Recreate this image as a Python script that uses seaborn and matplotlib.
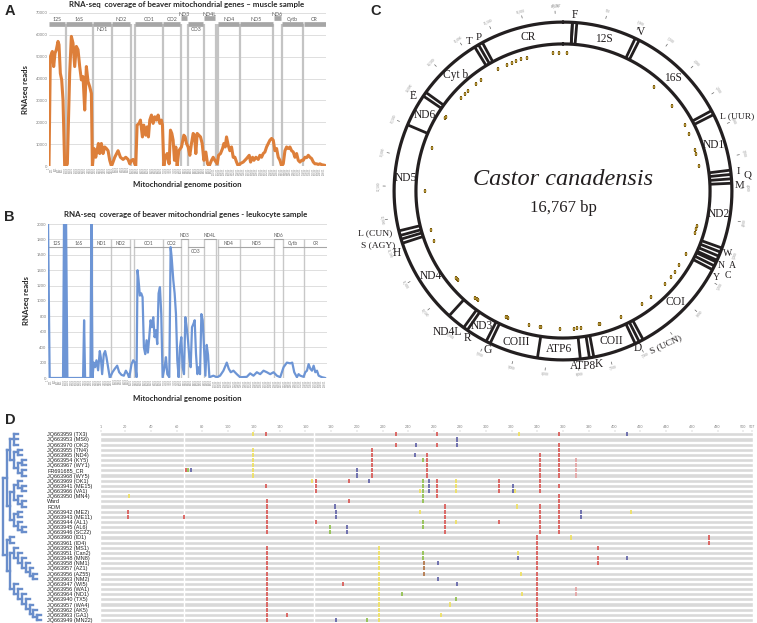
import numpy as np
import matplotlib
matplotlib.use("Agg")
import matplotlib.pyplot as plt
import seaborn as sns

sns.set_style("white")
plt.rcParams['font.family'] = ['Lato', 'DejaVu Sans']

GENOME = 16767

# A: RNA-seq coverage, muscle sample
muscle_pos = [0, 81, 202, 283, 364, 444, 545, 606, 687, 768,
              848, 949, 1050, 1111, 1252, 1353, 1454, 1555, 1656, 1757,
              1858, 1959, 2060, 2161, 2262, 2363, 2464, 2565, 2626, 2727,
              2828, 2909, 2990, 3070, 3171, 3272, 3373, 3474, 3575, 3676,
              3777, 3838, 3979, 4181, 4323, 4484, 4646, 4787, 4888, 4989,
              5090, 5191, 5252, 5333, 5454, 5535, 5656, 5737, 5858, 5939,
              6020, 6100, 6201, 6302, 6403, 6504, 6605, 6706, 6807, 6868,
              6949, 7050, 7151, 7272, 7353, 7434, 7514, 7595, 7676, 7757,
              7858, 8019, 8161, 8242, 8322, 8423, 8524, 8625, 8726, 8807,
              8888, 8969, 9070, 9171, 9272, 9373, 9494, 9595, 9696, 9837,
              9938, 10039, 10181, 10262, 10383, 10504, 10585, 10666, 10746, 10847,
              10948, 11049, 11150, 11251, 11352, 11453, 11554, 11756, 11958, 12120,
              12201, 12322, 12403, 12524, 12665, 12766, 12867, 12968, 13069, 13170,
              13271, 13372, 13473, 13574, 13675, 13776, 13877, 13978, 14079, 14180,
              14281, 14382, 14483, 14584, 14685, 14786, 14887, 14988, 15089, 15190,
              15291, 15392, 15493, 15594, 15695, 15796, 15897, 15998, 16099, 16200,
              16301, 16402, 16503, 16705]
muscle_reads = [0, 50000, 52400, 45500, 51600, 53200, 57000, 55500, 42400, 39400,
                30200, 0, 0, 1000, 42400, 59300, 56200, 45500, 54700, 53200,
                45500, 39400, 40900, 25600, 45500, 38600, 36300, 33200, 0, 8000,
                4000, 7000, 10300, 5700, 10300, 5700, 8700, 8000, 7000, 2600,
                0, 1000, 4000, 7000, 4000, 3000, 4000, 3000, 1000, 2600,
                3000, 1000, 0, 18700, 19500, 21000, 13300, 18700, 14100, 17900,
                13300, 21000, 23300, 19500, 22500, 21000, 23300, 19500, 21000, 18700,
                0, 4000, 5700, 1000, 16400, 14900, 11800, 2600, 8700, 0,
                7000, 8700, 14100, 13300, 10300, 8700, 4900, 10300, 14900, 14100,
                5700, 14900, 14100, 13300, 10300, 2600, 6400, 1000, 0, 2600,
                4000, 2600, 1000, 4900, 5700, 8000, 10300, 8700, 13300, 9500,
                7000, 8700, 4000, 4000, 1800, 0, 1000, 1800, 3400, 4900,
                1800, 4000, 2600, 4000, 3000, 4900, 4000, 5700, 6400, 8700,
                10300, 11800, 12600, 11800, 7000, 8000, 4000, 2600, 0, 1000,
                7000, 8700, 8000, 8700, 7000, 6400, 4000, 5700, 2600, 1800,
                2600, 2600, 4000, 3800, 4900, 4000, 3400, 1800, 1000, 1000,
                700, 1000, 600, 300]

# B: RNA-seq coverage, leukocyte sample
leuko_pos = [0, 100, 904, 964, 1024, 1084, 1165, 2108, 2169, 2229,
             2550, 2610, 2671, 2751, 2831, 2912, 3012, 3112, 3173, 3253,
             3353, 3434, 3514, 3614, 3715, 3875, 4016, 4157, 4277, 4418,
             4558, 4679, 4799, 4879, 5020, 5120, 5221, 5321, 5381, 5442,
             5522, 5602, 5683, 5763, 5843, 5924, 6004, 6084, 6165, 6245,
             6325, 6406, 6486, 6566, 6646, 6727, 6807, 6887, 7008, 7088,
             7169, 7289, 7369, 7430, 7530, 7610, 7691, 7771, 7851, 7932,
             8012, 8092, 8173, 8253, 8333, 8414, 8494, 8574, 8654, 8735,
             8815, 8895, 8976, 9056, 9136, 9217, 9297, 9377, 9458, 9538,
             9618, 9699, 9940, 10140, 10341, 10542, 10743, 10863, 10984, 11144,
             11345, 11546, 11948, 12148, 12349, 12550, 12751, 12952, 13152, 13353,
             13554, 13755, 13956, 14156, 14357, 14558, 14678, 14799, 14960, 15060,
             15160, 15361, 15462, 15562, 15662, 15763, 15863, 15964, 16064, 16165,
             16265, 16466, 16667]
leuko_reads = [2100, 0, 0, 2100, 0, 2100, 0, 0, 750, 0,
               0, 2100, 0, 200, 140, 230, 100, 350, 270, 50,
               310, 350, 270, 140, 0, 75, 120, 160, 75, 40,
               30, 95, 50, 0, 180, 230, 200, 10, 1400, 1270,
               1070, 1100, 1050, 400, 310, 490, 330, 530, 750, 660,
               790, 530, 620, 440, 1100, 1180, 830, 10, 140, 270,
               50, 10, 1700, 1570, 1270, 1100, 830, 230, 10, 400,
               530, 140, 50, 790, 660, 490, 270, 140, 660, 700,
               750, 310, 50, 140, 50, 830, 750, 400, 30, 430,
               300, 10, 30, 10, 30, 95, 200, 120, 75, 95,
               50, 10, 15, 60, 30, 75, 50, 95, 75, 50,
               75, 30, 10, 140, 200, 190, 200, 75, 10, 50,
               30, 15, 75, 95, 180, 120, 95, 160, 75, 95,
               30, 10, 0]

# gene band on top of A and B
band_genes = ["12S", "16S", "ND1", "ND2", "CO1", "CO2", "ND3", "CO3", "ND4L", "ND4", "ND5", "ND6", "Cytb", "CR"]
band_start = [0, 1010, 2640, 3800, 5190, 6890, 7980, 8400, 9370, 10210, 11550, 13560, 14100, 15380]
band_end = [1010, 2640, 3800, 4950, 6890, 7980, 8400, 9370, 10100, 11550, 13560, 14100, 15380, 16767]
band_level_a = ["mid", "mid", "low", "mid", "mid", "mid", "up", "low", "up", "mid", "mid", "up", "mid", "mid"]
band_level_b = ["mid", "mid", "mid", "mid", "mid", "mid", "up", "low", "up", "mid", "mid", "up", "mid", "mid"]

# C: circular map
c_names = ["F", "12S", "V", "16S", "L (UUR)", "ND1", "I", "Q", "M", "ND2",
           "W", "A", "N", "C", "Y", "COI", "S (UCN)", "D", "COII", "K",
           "ATP8", "ATP6", "COIII", "G", "ND3", "R", "ND4L", "ND4", "H", "S (AGY)",
           "L (CUN)", "ND5", "ND6", "E", "Cyt b", "T", "P", "CR"]
c_start = [0, 70, 1030, 1100, 2720, 2790, 3712, 3780, 3850, 3920,
           4962, 5030, 5100, 5200, 5268, 5336, 6915, 6985, 7055, 7745,
           7815, 7960, 8640, 9425, 9495, 9842, 9912, 10208, 11587, 11655,
           11715, 11790, 13500, 14020, 14090, 15150, 15220, 15290]
c_end = [70, 1030, 1100, 2720, 2790, 3712, 3780, 3850, 3920, 4962,
         5030, 5100, 5170, 5268, 5336, 6915, 6985, 7055, 7745, 7815,
         7960, 8640, 9425, 9495, 9842, 9912, 10208, 11587, 11655, 11715,
         11790, 13500, 14020, 14090, 15150, 15220, 15290, 16767]
c_trna = ["F", "V", "L (UUR)", "I", "Q", "M", "W", "A", "N", "C", "Y", "S (UCN)", "D", "K",
          "G", "R", "H", "S (AGY)", "L (CUN)", "E", "T", "P"]
c_variants = [1774, 2268, 2724, 2906, 3232, 3316, 3560, 4718, 4790, 4867,
              5313, 5561, 5716, 5845, 6007, 6391, 6608, 7088, 7517, 7540,
              7880, 7960, 8030, 8286, 8664, 8690, 8904, 9330, 9350, 9370,
              10013, 10040, 10070, 10550, 10580, 10610, 11434, 11657, 12421, 13273,
              13903, 13930, 14397, 14500, 14600, 14800, 14912, 15300, 15500, 15600,
              15700, 15800, 15905, 16418, 16534, 16700]

# D: control region alignment
seq_names = ["JQ663959 (TX3)", "JQ663953 (MS6)", "JQ663970 (OK2)", "JQ663955 (TN4)",
             "JQ663965 (ND4)", "JQ663954 (KY5)", "JQ663967 (WY1)", "FR691685_CR",
             "JQ663968 (WY5)", "JQ663969 (OK1)", "JQ663941 (ME15)", "JQ663966 (VA1)",
             "JQ663950 (MN4)", "Ward", "ROM", "JQ663942 (ME2)", "JQ663943 (ME11)",
             "JQ663944 (AL1)", "JQ663945 (AL6)", "JQ663946 (SC22)", "JQ663960 (ID1)",
             "JQ663961 (ID4)", "JQ663952 (MS1)", "JQ663951 (Can2)", "JQ663948 (MN8)",
             "JQ663958 (NM1)", "JQ663957 (AZ1)", "JQ663956 (AZ55)", "JQ663963 (NM2)",
             "JQ663947 (WI5)", "JQ663956 (WA1)", "JQ663964 (ND1)", "JQ663940 (TX5)",
             "JQ663957 (WA4)", "JQ663962 (AK5)", "JQ663963 (GA1)", "JQ663949 (MN22)"]
aln_ticks = [1, 20, 40, 60, 80, 100, 120, 140, 160, 180, 200, 220, 240, 260, 280, 300,
             320, 340, 360, 380, 400, 420, 440, 460, 480, 500, 507]
red_sites = {0: [129, 230, 262, 357], 2: [230, 262, 357], 3: [212, 357],
             4: [212, 254, 342, 357], 5: [212, 254, 342, 357], 6: [212, 254, 342, 357],
             7: [67, 212, 254, 342, 357], 8: [212, 254, 342, 357],
             9: [168, 194, 262, 310, 342], 10: [129, 168, 262, 310, 342, 357],
             11: [168, 262, 310, 342], 12: [262, 357], 13: [130, 194, 357],
             14: [130, 268, 342, 357], 15: [22, 130, 268, 342, 357],
             16: [22, 66, 130, 268, 342, 357], 17: [130, 168, 268, 310, 342, 357],
             18: [130, 268, 342, 357], 19: [130, 268, 342, 357], 20: [340, 473], 21: [340, 473],
             22: [130, 340, 387], 23: [130, 340], 24: [130, 340, 387], 25: [130, 340, 387],
             26: [130, 340], 27: [130, 340], 28: [130, 340], 29: [130, 189, 340],
             30: [130, 340], 31: [130, 340], 32: [130, 340], 33: [130, 340], 34: [130, 340],
             35: [130, 146, 340], 36: [130, 340]}
blue_sites = {0: [410], 1: [278], 2: [246, 278], 4: [245], 7: [71, 200], 8: [200],
              9: [209, 256], 10: [256, 321], 11: [256, 321], 14: [183], 15: [184, 374],
              16: [184, 374], 18: [192], 19: [192], 24: [325, 410], 25: [263], 28: [263],
              29: [278], 36: [184]}
green_sites = {5: [251], 7: [69], 9: [251], 10: [251], 11: [251], 12: [251], 13: [251],
               17: [251], 18: [179, 251], 19: [179], 23: [251], 24: [251], 31: [235],
               32: [277], 36: [208]}
yellow_sites = {0: [119, 326], 3: [119], 4: [119], 5: [119], 6: [119], 7: [119], 8: [119],
                9: [165, 277], 10: [277], 11: [249, 277, 323], 12: [23], 14: [324],
                15: [249, 413], 17: [277], 20: [366], 22: [217], 23: [217, 325], 24: [217],
                25: [217], 26: [217], 27: [217, 327], 28: [217], 29: [217], 30: [217],
                31: [217, 328], 32: [217], 33: [217, 272], 34: [217], 35: [217, 265], 36: [217]}
pink_sites = {5: [370], 6: [370], 7: [370], 8: [370], 30: [370], 31: [370]}
brown_sites = {25: [252], 26: [252], 27: [252]}

tree = (
    (
        ((0, 1, 2), ((3, 4), ((5, 6), (7, 8)))),
        (((9, (10, 11)), (12, (13, 14))), ((15, 16), (17, (18, 19)))),
    ),
    (
        (20, 21),
        ((22, (23, (24, (25, (26, (27, 28)))))),
         (29, (30, (31, (32, (33, (34, (35, 36)))))))),
    ),
)

W, H = 757, 623
fig = plt.figure(figsize=(7.57, 6.23), dpi=100)


def box(x0, y0, x1, y1):
    # pixel box (top-left origin) -> figure fraction rect
    return [x0 / W, 1 - y1 / H, (x1 - x0) / W, (y1 - y0) / H]


grey_txt = '#7f7f7f'
band_col = '#a6a6a6'
bounds = sorted(set(band_start[1:] + band_end[:-1]))


def coverage_axes(ax, x, y, color, lw, ymax, ystep):
    sns.lineplot(x=x, y=y, ax=ax, color=color, lw=lw, zorder=3)
    ax.set_xlim(0, GENOME)
    ax.set_ylim(0, ymax)
    ax.set_yticks(np.arange(0, ymax + 1, ystep))
    ax.set_yticklabels([str(v) for v in np.arange(0, ymax + 1, ystep)], fontsize=3, color=grey_txt)
    xt = np.arange(1, GENOME, 200)
    ax.set_xticks(xt)
    ax.set_xticklabels([str(v) for v in xt], fontsize=1.8, rotation=90, color=grey_txt)
    ax.tick_params(length=0, pad=1)
    ax.yaxis.grid(True, color='#d9d9d9', lw=0.6)
    for s in ax.spines.values():
        s.set_visible(False)
    ax.set_xlabel('')
    ax.set_ylabel('')


# ---- A
axA = fig.add_axes(box(49, 13, 326, 166))
coverage_axes(axA, muscle_pos, muscle_reads, '#dd7f3a', 2.2, 70000, 10000)
axA.vlines(bounds, 0, 65000, color='#c4c4c4', lw=1.6, zorder=1)
for g, s, e, lv in zip(band_genes, band_start, band_end, band_level_a):
    y = 67600 if lv == "up" else 65000
    axA.plot([s + 30, e - 30], [y, y], color=band_col, lw=3.4, solid_capstyle='butt', zorder=2)
    ly = y - 2700 if lv == "low" else y + 1900
    axA.text((s + e) / 2, ly, g, ha='center', va='center', fontsize=3.8, color='#595959', zorder=4)

# ---- B
axB = fig.add_axes(box(48, 224, 327, 378))
coverage_axes(axB, leuko_pos, leuko_reads, '#6d95d5', 1.6, 2000, 200)
axB.vlines(bounds, 0, 1800, color='#c8c8c8', lw=1.0, zorder=1)
for g, s, e, lv in zip(band_genes, band_start, band_end, band_level_b):
    y = 1800 if lv == "up" else 1700
    axB.plot([s, e], [y, y], color=band_col, lw=0.8, zorder=2)
    ly = y - 55 if lv == "low" else y + 45
    axB.text((s + e) / 2, ly, g, ha='center', va='center', fontsize=3.4, color='#595959', zorder=4)

title_kw = dict(ha='center', va='center', fontsize=5.7, fontweight='bold', color='#262626')
fig.text(187 / W, 1 - 5 / H, 'RNA-seq  coverage of beaver mitochondrial genes \u2013 muscle sample', **title_kw)
fig.text(186 / W, 1 - 215 / H, 'RNA-seq  coverage of beaver mitochondrial genes - leukocyte sample', **title_kw)
lab_kw = dict(ha='center', va='center', fontsize=5.6, fontweight='bold', color='#262626')
fig.text(187 / W, 1 - 185 / H, 'Mitochondrial genome position', **lab_kw)
fig.text(187 / W, 1 - 398 / H, 'Mitochondrial genome position', **lab_kw)
fig.text(25 / W, 1 - 90 / H, 'RNAseq reads', rotation=90, **lab_kw)
fig.text(27 / W, 1 - 301 / H, 'RNAseq reads', rotation=90, **lab_kw)

letter_kw = dict(ha='center', va='center', fontsize=10.5, fontweight='bold', family=['Liberation Sans'])
fig.text(10 / W, 1 - 11 / H, 'A', **letter_kw)
fig.text(9 / W, 1 - 217 / H, 'B', **letter_kw)
fig.text(376 / W, 1 - 11 / H, 'C', **letter_kw)
fig.text(10 / W, 1 - 420 / H, 'D', **letter_kw)

# ---- C
axC = fig.add_axes(box(373, 1, 753, 381), projection='polar')
axC.set_theta_zero_location('N')
axC.set_theta_direction(-1)
axC.set_ylim(0, 1)
axC.axis('off')
R_OUT, R_IN = 0.889, 0.774
ring_col = '#231f20'
serif = ['Liberation Serif', 'DejaVu Serif']


def th(pos):
    return np.deg2rad(3.2 + pos * 360.0 / GENOME)


ring = np.linspace(0, 2 * np.pi, 721)
axC.plot(ring, np.full_like(ring, R_OUT), color=ring_col, lw=2.3)
axC.plot(ring, np.full_like(ring, R_IN), color=ring_col, lw=2.3)
for b in sorted(set(c_start + c_end)):
    axC.plot([th(b), th(b)], [R_IN, R_OUT], color=ring_col, lw=2.0, solid_capstyle='butt')

# label placement: name -> (angle shift in degrees, radius, ha, rotation, fontsize)
label_tweak = {
    "ATP8": (1, 0.925, "center", 0, 8.3), "ND4L": (-3.6, 0.915, "right", 0, 8.3),
    "R": (-2.3, 0.92, "center", 0, 8.3), "G": (-1, 0.925, "center", 0, 8.3),
    "T": (-1.3, 0.93, "center", 0, 7.8), "P": (0.6, 0.92, "center", 0, 7.8),
    "L (UUR)": (2, 0.915, "left", 0, 6.8), "Q": (0, 0.975, "center", 0, 7.8),
    "M": (1.5, 0.93, "center", 0, 7.8), "I": (0, 0.93, "center", 0, 7.8),
    "W": (0.5, 0.925, "center", 0, 7.0), "A": (1.6, 0.975, "center", 0, 7.0),
    "N": (1.8, 0.922, "center", 0, 7.0), "C": (1.6, 0.975, "center", 0, 7.0),
    "Y": (2.5, 0.925, "center", 0, 7.0),
    "D": (0.4, 0.915, "center", 0, 8.3), "S (UCN)": (-1.5, 0.925, "left", 25, 6.8),
    "K": (-2, 0.93, "center", 0, 8.3),
    "H": (-3.3, 0.935, "center", 0, 8.3), "S (AGY)": (-2, 0.93, "right", 0, 6.8),
    "L (CUN)": (0.6, 0.925, "right", 0, 6.8), "E": (-2.5, 0.935, "center", 0, 8.3),
}
for n, s, e in zip(c_names, c_start, c_end):
    mid = np.rad2deg(th((s + e) / 2))
    if n in label_tweak:
        dt, r, ha, rot, fs = label_tweak[n]
    elif n in c_trna:
        dt, r, ha, rot, fs = 0, 0.93, "center", 0, 8.3
    else:
        dt, r, ha, rot, fs = 0, 0.83, "center", 0, 8.3
    axC.text(np.deg2rad(mid + dt), r, n, ha=ha, va='center', rotation=rot,
             fontsize=fs, family=serif, color='#231f20')

axC.scatter([th(p) for p in c_variants], [0.727] * len(c_variants), marker='s', s=4,
            color='#c9a640', edgecolors='#7a5c10', linewidths=0.3, zorder=5)

for v in range(500, GENOME, 500):
    deg = np.rad2deg(th(v))
    rot = -deg if (deg <= 90 or deg >= 270) else 180 - deg
    axC.text(th(v), 0.97, f"{v:,}", ha='center', va='center', rotation=rot,
             fontsize=2.4, color='#8a8a8a', family=serif)
    axC.plot([th(v), th(v)], [0.935, 0.948], color='#666666', lw=0.5)
axC.text(-0.01, 0.975, f"{GENOME:,}", ha='right', va='center', fontsize=2.4, color='#8a8a8a', family=serif)

axC.text(0.5, 0.529, 'Castor canadensis', transform=axC.transAxes, ha='center', va='center',
         fontsize=17.5, style='italic', family=serif, color='#231f20')
axC.text(0.5, 0.455, f'{GENOME:,} bp', transform=axC.transAxes, ha='center', va='center',
         fontsize=12, family=serif, color='#231f20')

# ---- D alignment
rows = np.arange(len(seq_names))
axD = fig.add_axes(box(100, 431.7, 753, 622.6))
axD.barh(rows, 507, left=0.5, height=0.8, color='#d9d9d9', zorder=1)
axD.vlines([66, 167], -0.5, len(seq_names) - 0.5, color='white', lw=1.0, zorder=2)
site_cols = [(red_sites, '#d9534f'), (blue_sites, '#5b5ea6'), (green_sites, '#8cbf46'),
             (yellow_sites, '#efe05a'), (pink_sites, '#e6a0a0'), (brown_sites, '#b07040')]
for sites, col in site_cols:
    for r, ps in sites.items():
        axD.vlines(ps, r - 0.4, r + 0.4, color=col, lw=1.2, zorder=3)
axD.set_xlim(0.5, 507.5)
axD.set_ylim(len(seq_names) - 0.5, -0.5)
axD.xaxis.tick_top()
axD.set_xticks(aln_ticks)
axD.set_xticklabels([str(t) for t in aln_ticks], fontsize=2.6, color=grey_txt)
axD.tick_params(axis='x', length=1.5, width=0.3, pad=0.5, color='#aaaaaa')
axD.set_yticks(rows)
axD.set_yticklabels(seq_names, fontsize=4.0, ha='left', family=['Liberation Sans'], color='#222222')
axD.tick_params(axis='y', length=0, pad=38)
for s in axD.spines.values():
    s.set_visible(False)

# dendrogram
axT = fig.add_axes(box(0, 431.7, 45, 622.6))
tree_col = '#6a8ecb'


def draw(node, depth):
    if isinstance(node, int):
        return node
    ys = []
    for child in node:
        cy = draw(child, depth + 1)
        axT.plot([depth, depth + 1], [cy, cy], color=tree_col, lw=1.7, solid_capstyle='projecting')
        ys.append(cy)
    axT.plot([depth, depth], [min(ys), max(ys)], color=tree_col, lw=1.7, solid_capstyle='projecting')
    return (min(ys) + max(ys)) / 2


draw(tree, 0)
axT.set_xlim(-0.7, 11.0)
axT.set_ylim(len(seq_names) - 0.5, -0.5)
axT.axis('off')

fig.savefig('out.png', dpi=100)
